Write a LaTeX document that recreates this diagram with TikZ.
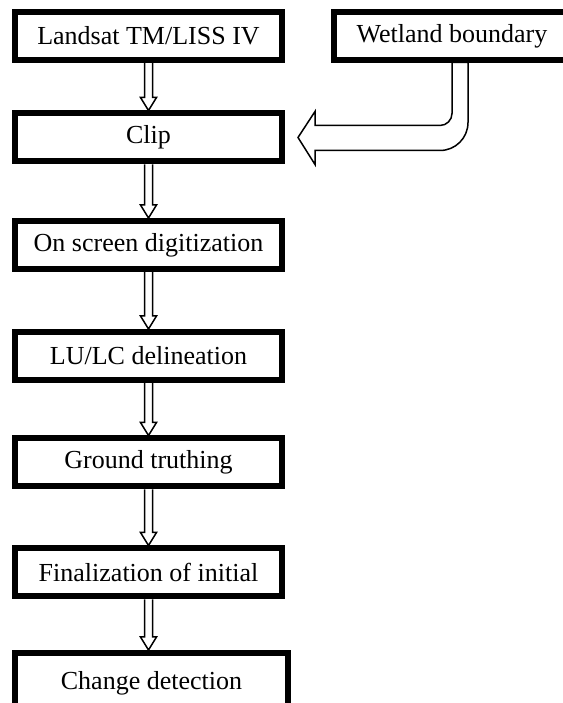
\documentclass[tikz,border=0pt]{standalone}
\usepackage{fontspec}
\setmainfont{Liberation Serif}
\usetikzlibrary{calc}

\begin{document}
\begin{tikzpicture}[x = 1pt, y = 1pt,
    stepbox/.style = {draw, line width = 6pt, minimum width = 267pt,
      minimum height = 48pt, inner sep = 0pt,
      font = \fontsize{26}{30}\selectfont},
    flowline/.style = {draw, line width = 1.5pt, line join = miter},
    bigarrow/.style = {draw, line width = 1.5pt, fill = white,
      line join = miter}]
  \useasboundingbox (0, 0) rectangle (562, 703);

  \node[stepbox] (land) at (148.5, 667) {Landsat TM/LISS IV};
  \node[stepbox, minimum width = 236pt] (wet) at (452, 667) {Wetland boundary};
  \node[stepbox] (clip) at (148.5, 565.5) {Clip};
  \node[stepbox] (screen) at (148.5, 458) {On screen digitization};
  \node[stepbox] (lulc) at (148.5, 347) {LU/LC delineation};
  \node[stepbox] (ground) at (148.5, 240.5) {Ground truthing};
  \node[stepbox] (final) at (148.5, 130.5) {Finalization of initial};
  \node[stepbox, minimum width = 273pt, minimum height = 60pt] (change)
    at (151.5, 20) {Change detection};

  \foreach \from/\to in {land/clip, clip/screen, screen/lulc,
      lulc/ground, ground/final, final/change} {
    \coordinate (end) at (\from.south |- \to.north);
    \draw[flowline] ($(\from.south) + (-4, 0)$) -- ($(end) + (-4, 13)$)
      -- ++(-4, 0) -- (end) -- ($(end) + (8, 13)$) -- ++(-4, 0)
      -- ($(\from.south) + (4, 0)$);
  }

  \coordinate (tip) at ($(clip.east) + (13, 0)$);
  \draw[bigarrow] (tip)
    -- ++(17, 26) -- ++(0, -14) -- ++(125, 0)
    .. controls +(6.6, 0) and +(0, -6.6) .. ++(12, 12)
    -- ++(0, 51) -- ++(16, 0) -- ++(0, -60)
    .. controls +(0, -15.5) and +(15.5, 0) .. ++(-28, -28)
    -- ++(-125, 0) -- ++(0, -14) -- cycle;
\end{tikzpicture}
\end{document}
